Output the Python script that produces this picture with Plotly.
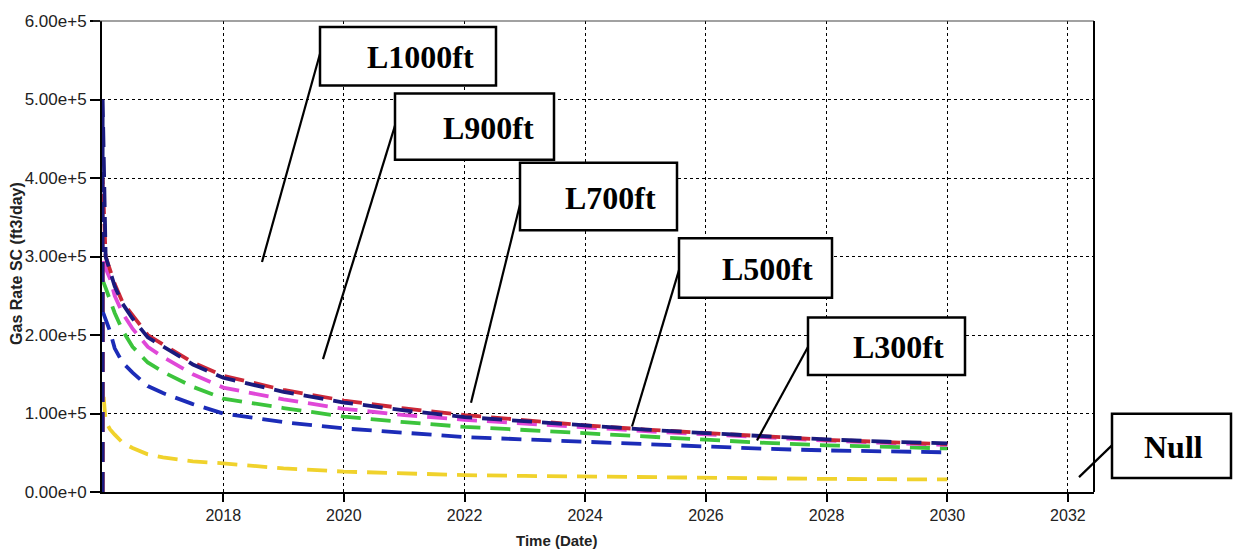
import plotly.graph_objects as go

# ---- data -------------------------------------------------------------
dates = [
    "2016-01-01", "2016-01-02", "2016-01-20", "2016-02-15", "2016-03-15",
    "2016-05-01", "2016-07-01", "2016-10-01", "2017-01-01", "2017-07-01",
    "2018-01-01", "2019-01-01", "2020-01-01", "2021-01-01", "2022-01-01",
    "2023-01-01", "2024-01-01", "2025-01-01", "2026-01-01", "2027-01-01",
    "2028-01-01", "2029-01-01", "2030-01-01",
]

rate_null = [0, 137000, 90000, 80000, 73000, 63000, 56000, 48000, 44000, 39000,
             36500, 30000, 26000, 23500, 21500, 20500, 19500, 18700, 18000,
             17200, 16700, 16300, 16000]
rate_l300 = [0, 230000, 220000, 205000, 183000, 165000, 152000, 135000, 126000,
             112000, 100000, 89000, 81000, 75000, 70000, 67000, 64000, 60000,
             57000, 55000, 53000, 51500, 50500]
rate_l500 = [0, 270000, 260000, 245000, 228000, 206000, 185000, 165000, 153000,
             134000, 119000, 107000, 96000, 89000, 83000, 79000, 75000, 70000,
             66500, 62500, 59500, 57000, 55500]
rate_l700 = [0, 300000, 285000, 272000, 250000, 228000, 208000, 185000, 172000,
             150000, 133000, 118000, 106000, 98000, 92000, 87000, 82000, 77500,
             73500, 69000, 65500, 62500, 60000]
rate_l1000 = [0, 400000, 300000, 285000, 265000, 242000, 225000, 200000, 188000,
              165000, 148000, 130000, 116500, 106500, 98000, 91000, 85000, 79500,
              75000, 70000, 66500, 63500, 61000]
rate_l900 = [0, 500000, 300000, 283000, 262000, 240000, 221000, 197000, 185000,
             162500, 145500, 127500, 114000, 104000, 95500, 90000, 85000, 79500,
             75000, 70500, 67000, 64000, 62000]

series_names = ["Null", "L300ft", "L500ft", "L700ft", "L1000ft", "L900ft"]
series_values = [rate_null, rate_l300, rate_l500, rate_l700, rate_l1000, rate_l900]
series_colors = ["#f0d22c", "#1c2cb8", "#3cc43c", "#e048d8", "#cc2838", "#1a1a7e"]

x_tick_years = ["2018", "2020", "2022", "2024", "2026", "2028", "2030", "2032"]
y_tick_values = [0, 100000, 200000, 300000, 400000, 500000, 600000]

# ---- page geometry ----------------------------------------------------
W, H = 1233, 551
ML, MR, MT, MB = 102, W - 1094, 17, H - 492
PW, PH = W - ML - MR, H - MT - MB


def px(x):
    return (x - ML) / PW


def py(y):
    return (H - MB - y) / PH


fig = go.Figure()
for name, vals, col in zip(series_names, series_values, series_colors):
    fig.add_trace(go.Scatter(
        x=dates, y=vals, name=name, mode="lines",
        line=dict(color=col, width=3.8, dash="20px,10px"),
        showlegend=False,
    ))

sans = "Liberation Sans, Arial, sans-serif"

fig.update_xaxes(
    type="date",
    range=["2015-12-29", "2032-06-07"],
    tickvals=[y + "-01-01" for y in x_tick_years],
    ticktext=x_tick_years,
    ticks="outside", ticklen=8, tickwidth=2, tickcolor="black",
    showline=True, linewidth=2, linecolor="black",
    showgrid=True, gridcolor="black", gridwidth=1, griddash="3px,3px",
    tickfont=dict(family=sans, size=16, color="#222"), zeroline=False,
)
fig.update_yaxes(
    range=[0, 600000],
    tickvals=y_tick_values,
    tickformat=".2e",
    ticks="outside", ticklen=10, tickwidth=2, tickcolor="black",
    showline=True, linewidth=2, linecolor="black",
    showgrid=True, gridcolor="black", gridwidth=1, griddash="3px,3px",
    tickfont=dict(family=sans, size=17, color="#222"),
    zeroline=False,
)

shapes = [
    # top and right frame
    dict(type="line", xref="paper", yref="paper", x0=px(93), x1=1, y0=1, y1=1,
         line=dict(color="#444", width=1.2)),
    dict(type="line", xref="paper", yref="paper", x0=1, x1=1, y0=0, y1=1,
         line=dict(color="black", width=2)),
]
annotations = [
    dict(text="<b>Gas Rate SC (ft3/day)</b>", xref="paper", yref="paper",
         x=px(17), y=py(262), xanchor="center", yanchor="middle",
         textangle=-90, showarrow=False,
         font=dict(family=sans, size=16, color="#222")),
    dict(text="<b>Time (Date)</b>", xref="paper", yref="paper",
         x=px(556), y=py(541), xanchor="center", yanchor="middle", showarrow=False,
         font=dict(family=sans, size=15, color="#222")),
]

# callout boxes: label, box (x0, y0, x1, y1), text right edge, leader (start -> end)
callouts = [
    ("L1000ft", (320, 23, 496, 82), 476, (320, 50), (262, 260)),
    ("L900ft", (395, 90, 554, 157), 536, (397, 116), (323, 358)),
    ("L700ft", (520, 160, 677, 228), 658, (521, 198), (471, 402)),
    ("L500ft", (679, 236, 832, 296), 815, (680, 265), (632, 426)),
    ("L300ft", (808, 316, 965, 374), 946, (810, 342), (757, 440)),
    ("Null", (1112, 413, 1231, 478), 1205, (1114, 443), (1079, 477)),
]
for label, (bx0, by0, bx1, by1), tx, (lx0, ly0), (lx1, ly1) in callouts:
    shapes.append(dict(type="line", xref="paper", yref="paper",
                       x0=px(lx0), y0=py(ly0), x1=px(lx1), y1=py(ly1),
                       line=dict(color="black", width=2.2)))
    shapes.append(dict(type="rect", xref="paper", yref="paper",
                       x0=px(bx0), y0=py(by1), x1=px(bx1), y1=py(by0),
                       fillcolor="white", line=dict(color="black", width=2.5)))
    annotations.append(dict(
        text="<b>" + label + "</b>", xref="paper", yref="paper",
        x=px(tx), y=py((by0 + by1) / 2 + 1), xanchor="right", yanchor="middle",
        showarrow=False,
        font=dict(family="Liberation Serif, Times New Roman, serif", size=32, color="black"),
    ))

fig.update_layout(
    width=W, height=H,
    margin=dict(l=ML, r=MR, t=MT, b=MB),
    paper_bgcolor="white", plot_bgcolor="white",
    shapes=shapes, annotations=annotations,
)

fig.write_html("out.html")
